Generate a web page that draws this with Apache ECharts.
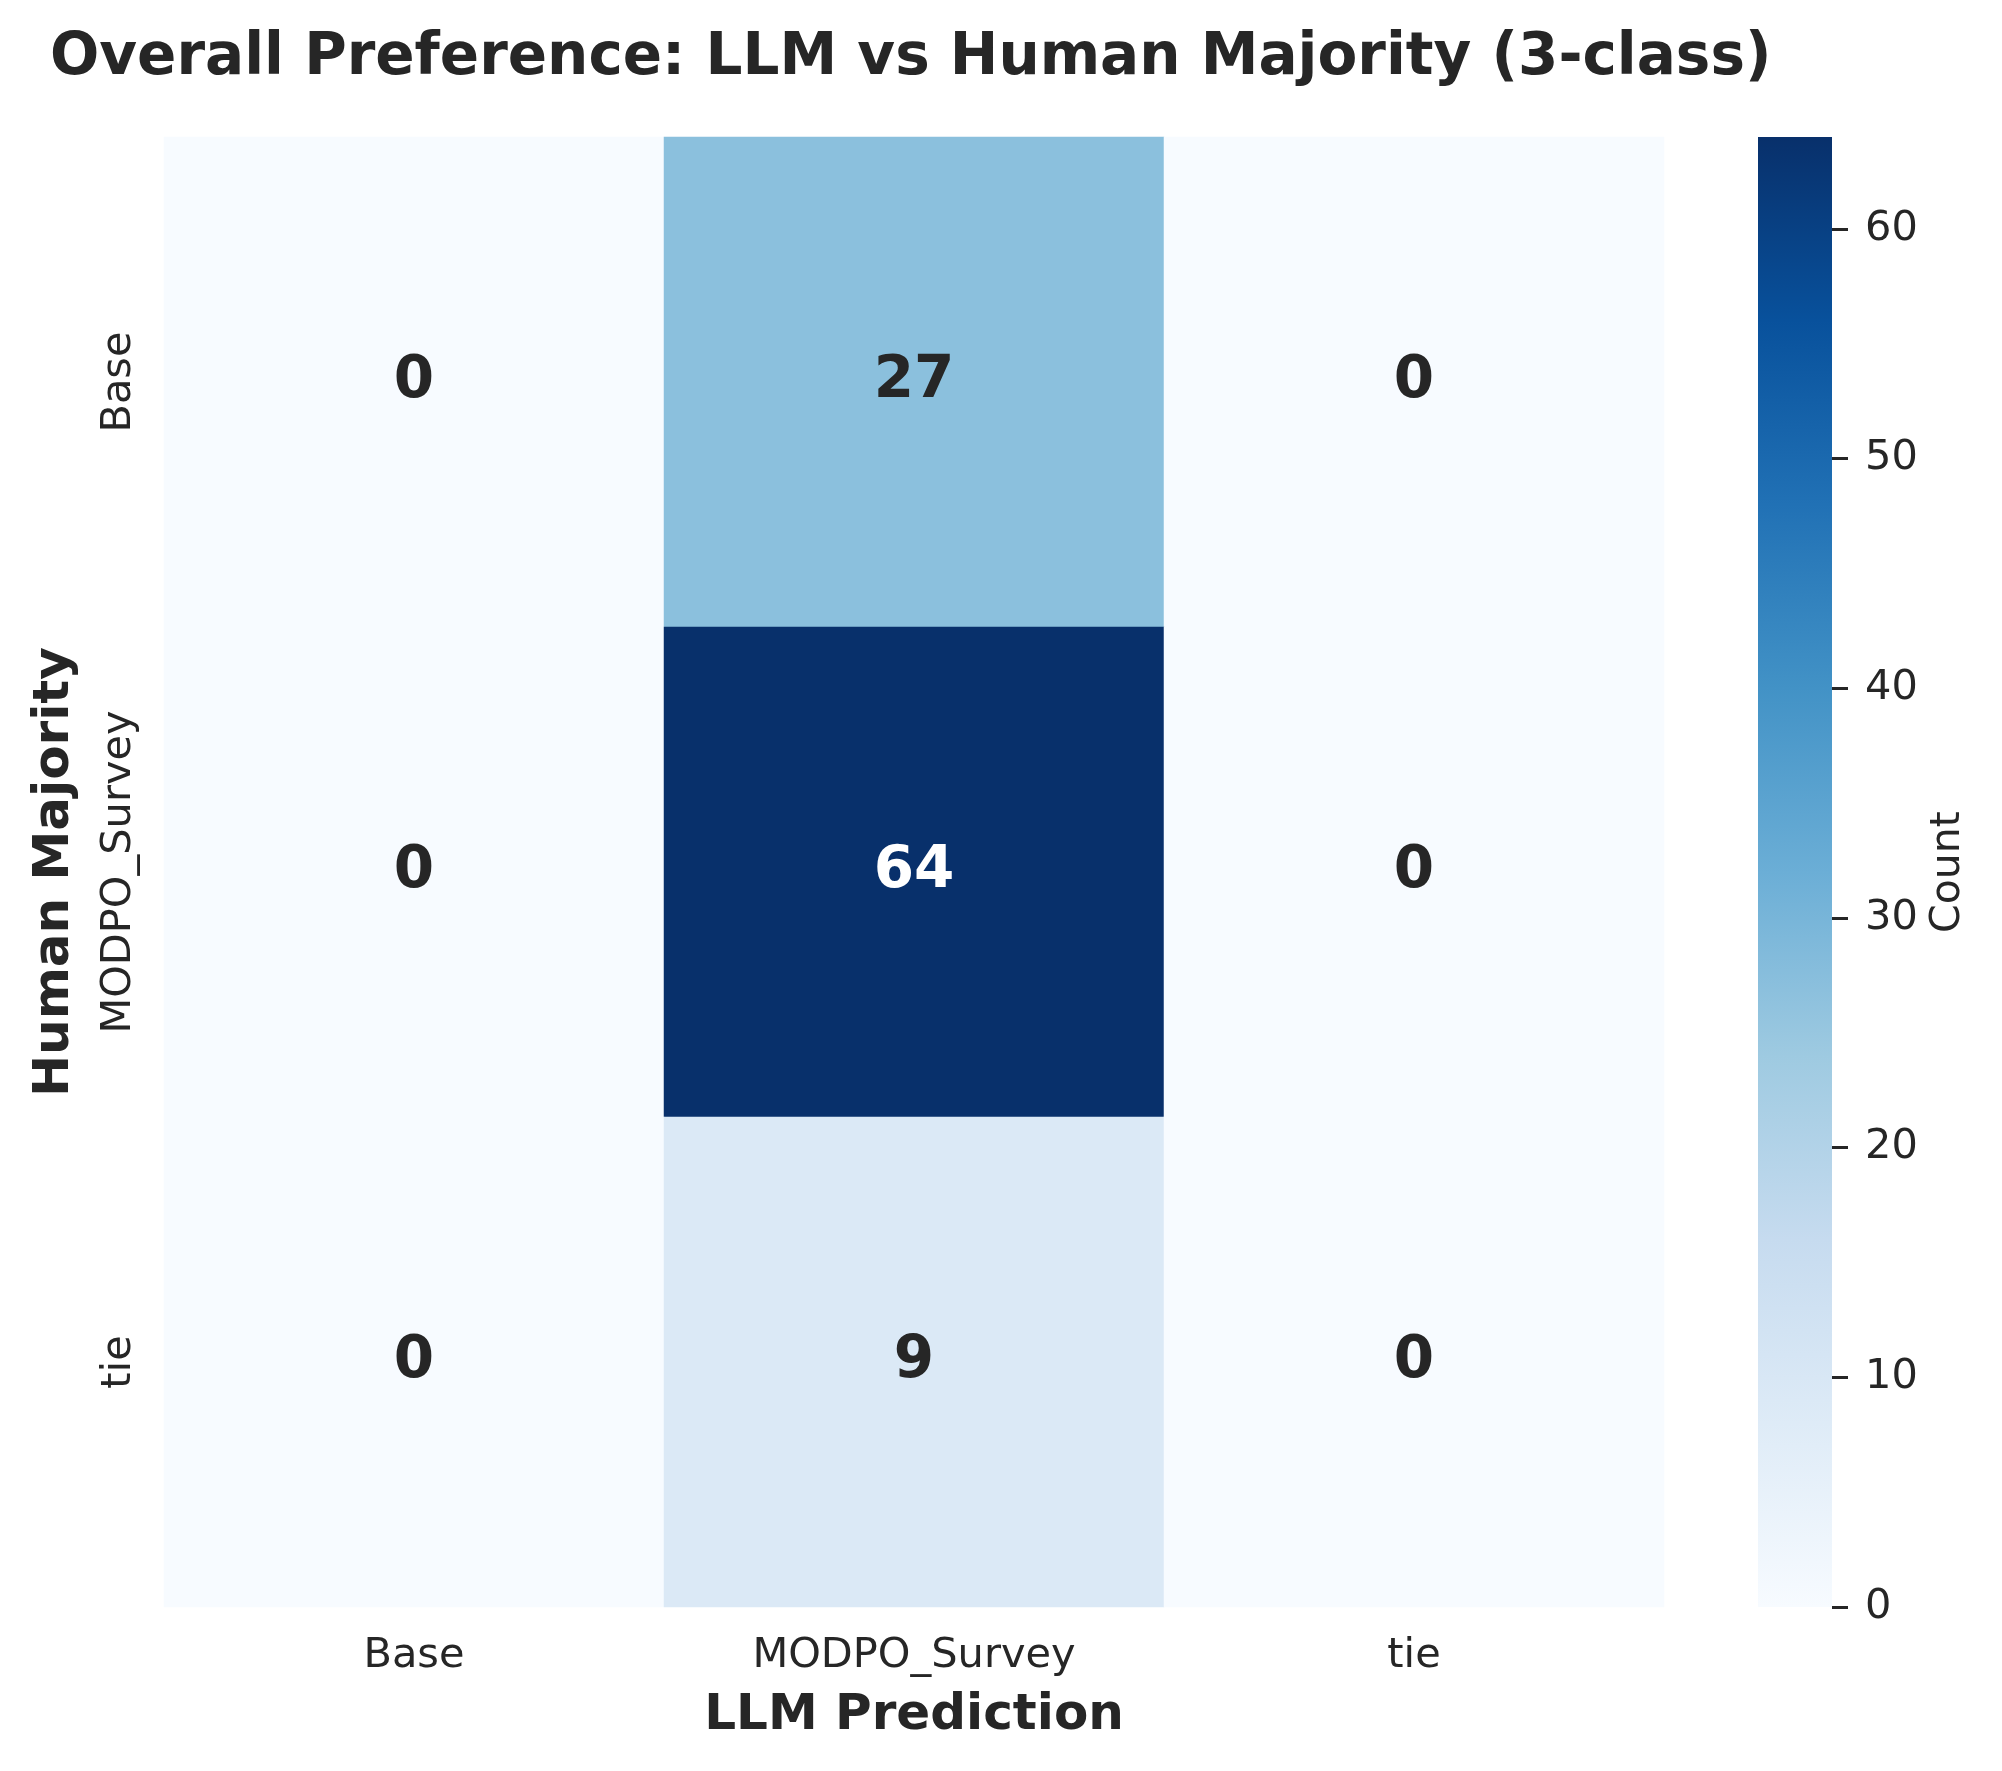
<!DOCTYPE html>
<html>
<head>
<meta charset="utf-8">
<script src="https://cdn.jsdelivr.net/npm/echarts@6/dist/echarts.min.js"></script>
<style>
html,body{margin:0;padding:0;background:#fff;}
#chart{width:2002px;height:1771px;}
</style>
</head>
<body>
<div id="chart"></div>
<script>
const xCategories = ['Base', 'MODPO_Survey', 'tie'];
const yCategories = ['Base', 'MODPO_Survey', 'tie'];
// counts[row = human majority][col = LLM prediction]
const countsBase = [0, 27, 0];
const countsModpo = [0, 64, 0];
const countsTie = [0, 9, 0];
const colorbarTicks = [0, 10, 20, 30, 40, 50, 60];
const blues = ['#f7fbff','#deebf7','#c6dbef','#9ecae1','#6baed6','#4292c6','#2171b5','#08519c','#08306b'];

const rows = [countsBase, countsModpo, countsTie];
const vmax = Math.max(...rows.flat());
const textColor = '#262626';
const font = 'DejaVu Sans';

const heatData = [];
rows.forEach((row, yi) => {
  row.forEach((v, xi) => {
    heatData.push({
      value: [xi, yi, v],
      label: { color: v / vmax > 0.6 ? '#ffffff' : textColor }
    });
  });
});

const gradStops = blues.map((c, i) => ({ offset: 1 - i / (blues.length - 1), color: c }));

const chart = echarts.init(document.getElementById('chart'), null, { renderer: 'canvas' });
chart.setOption({
  backgroundColor: '#ffffff',
  animation: false,
  textStyle: { fontFamily: font, color: textColor },
  title: {
    text: 'Overall Preference: LLM vs Human Majority (3-class)',
    left: 45, top: 25,
    textStyle: { fontFamily: font, fontWeight: 'bold', fontSize: 58, color: textColor }
  },
  grid: [
    { left: 164, right: 2002 - 1664, top: 137, bottom: 1771 - 1607, containLabel: false },
    { left: 1758, width: 74, top: 137, bottom: 1771 - 1607, containLabel: false }
  ],
  xAxis: [
    {
      type: 'category', data: xCategories, gridIndex: 0,
      axisLine: { show: false }, axisTick: { show: false }, splitLine: { show: false },
      axisLabel: { fontSize: 41.5, color: textColor, fontFamily: font, margin: 28 },
      name: 'LLM Prediction', nameLocation: 'middle', nameGap: 84,
      nameTextStyle: { fontSize: 50, fontWeight: 'bold', color: textColor, fontFamily: font }
    },
    {
      type: 'category', data: [''], gridIndex: 1, show: false
    }
  ],
  yAxis: [
    {
      type: 'category', data: yCategories, gridIndex: 0, inverse: true,
      axisLine: { show: false }, axisTick: { show: false }, splitLine: { show: false },
      axisLabel: { fontSize: 41.5, color: textColor, fontFamily: font, rotate: 90, margin: 24 },
      name: 'Human Majority', nameLocation: 'middle', nameGap: 84, nameRotate: 90,
      nameTextStyle: { fontSize: 50, fontWeight: 'bold', color: textColor, fontFamily: font }
    },
    {
      type: 'value', gridIndex: 1, position: 'right', min: 0, max: vmax, interval: 10,
      axisLine: { show: false },
      axisTick: { show: true, inside: false, length: 16, customValues: colorbarTicks, lineStyle: { color: textColor, width: 3 } },
      splitLine: { show: false },
      axisLabel: {
        fontSize: 41.5, color: textColor, fontFamily: font, margin: 33,
        customValues: colorbarTicks
      },
      name: 'Count', nameLocation: 'middle', nameGap: 96, nameRotate: 90,
      nameTextStyle: { fontSize: 41, color: textColor, fontFamily: font }
    }
  ],
  visualMap: {
    show: false, type: 'continuous', min: 0, max: vmax, seriesIndex: 0,
    inRange: { color: blues }
  },
  series: [
    {
      type: 'heatmap', xAxisIndex: 0, yAxisIndex: 0,
      data: heatData,
      label: { show: true, fontSize: 58, fontWeight: 'bold', fontFamily: font },
      itemStyle: { borderWidth: 0 },
      emphasis: { disabled: true }
    },
    {
      type: 'bar', xAxisIndex: 1, yAxisIndex: 1,
      data: [vmax], barWidth: '100%', silent: true,
      itemStyle: { color: new echarts.graphic.LinearGradient(0, 0, 0, 1, gradStops) }
    }
  ]
});
</script>
</body>
</html>
